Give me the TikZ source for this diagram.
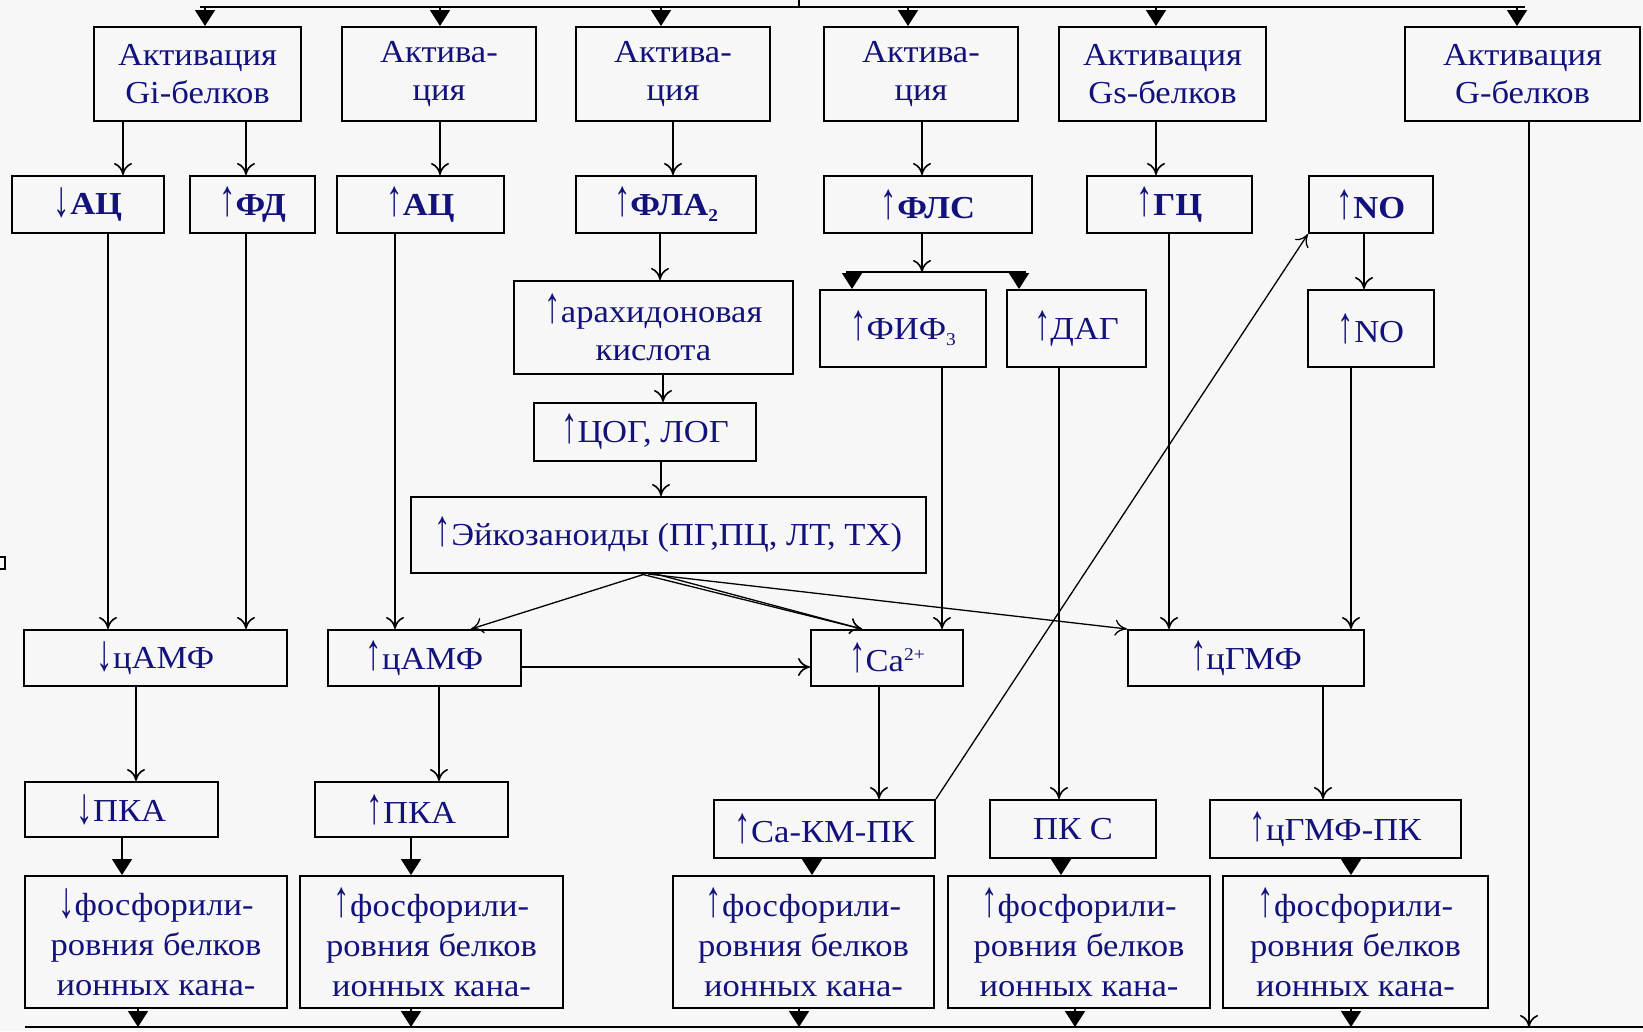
\documentclass[tikz,border=0pt]{standalone}
\usepackage{fontspec}
\setmainfont{Liberation Serif}[FakeStretch=1.08]
\usetikzlibrary{arrows.meta}
\definecolor{navy}{HTML}{12127A}
\definecolor{bgc}{HTML}{F7F7F7}
\newcommand\fsn{\fontsize{32}{38}\selectfont}
\newcommand\fsb{\fontsize{32}{38}\selectfont\bfseries}
\newcommand\fsf{\fontsize{32}{40}\selectfont}
\newcommand\lowsub[1]{\raisebox{-6pt}{\fontsize{18}{18}\selectfont #1}}
\newcommand\highsup[1]{\raisebox{11pt}{\fontsize{18}{18}\selectfont #1}}
\newcommand\upar{\scalebox{0.95}[1.6]{↑}}
\newcommand\dnar{\raisebox{-2pt}{\scalebox{0.95}[1.6]{↓}}}
\begin{document}
\begin{tikzpicture}[x=1pt,y=-1pt,
  box/.style={draw, line width=2pt, inner sep=0pt, align=center, font=\fsn, text=navy},
  bbox/.style={box, font=\fsb},
  fbox/.style={box, font=\fsf},
  ln/.style={line width=1.6pt},
  oa/.style={ln, -{Computer Modern Rightarrow[length=12pt,width=18pt]}},
  ta/.style={ln, -{Triangle[length=16pt,width=20pt]}},
  sa/.style={line width=1.3pt, -{Computer Modern Rightarrow[length=12pt,width=16pt]}}
]
\fill[bgc] (0,0) rectangle (1643,1031);
\useasboundingbox (0,0) rectangle (1643,1031);

% row 1
\node[box, minimum width=207pt, minimum height=94pt] (gi) at (197.5,74) {Активация\\Gi-белков};
\node[box, minimum width=194pt, minimum height=94pt] (a2) at (439,74) {Актива-\\ция};
\node[box, minimum width=194pt, minimum height=94pt] (a3) at (673,74) {Актива-\\ция};
\node[box, minimum width=194pt, minimum height=94pt] (a4) at (921,74) {Актива-\\ция};
\node[box, minimum width=207pt, minimum height=94pt] (gs) at (1162.5,74) {Активация\\Gs-белков};
\node[box, minimum width=235pt, minimum height=94pt] (g) at (1522.5,74) {Активация\\G-белков};

% row 2
\node[bbox, minimum width=152pt, minimum height=57pt] (dac) at (88,204.5) {\dnar АЦ};
\node[bbox, minimum width=125pt, minimum height=57pt] (ufd) at (252.5,204.5) {\upar ФД};
\node[bbox, minimum width=167pt, minimum height=57pt] (uac) at (420.5,204.5) {\upar АЦ};
\node[bbox, minimum width=180pt, minimum height=57pt] (fla) at (666,204.5) {\upar ФЛА\lowsub{2}};
\node[bbox, minimum width=208pt, minimum height=57pt] (fls) at (928,204.5) {\upar ФЛС};
\node[bbox, minimum width=165pt, minimum height=57pt] (gc) at (1169.5,204.5) {\upar ГЦ};
\node[bbox, minimum width=124pt, minimum height=57pt] (no1) at (1371,204.5) {\upar NO};

% row 3
\node[box, minimum width=279pt, minimum height=93pt] (arach) at (653.5,327.5) {\upar арахидоновая\\кислота};
\node[box, minimum width=166pt, minimum height=77pt] (fif) at (903,328.5) {\upar ФИФ\lowsub{3}};
\node[box, minimum width=139pt, minimum height=77pt] (dag) at (1076.5,328.5) {\upar ДАГ};
\node[box, minimum width=126pt, minimum height=77pt] (no2) at (1371,328.5) {\upar NO};

% rows 4-5
\node[box, minimum width=222pt, minimum height=58pt] (cog) at (645,432) {\upar ЦОГ, ЛОГ};
\node[box, minimum width=515pt, minimum height=76pt] (eic) at (668.5,535) {\upar Эйкозаноиды (ПГ,ПЦ, ЛТ, ТХ)};

% row 6
\node[box, minimum width=263pt, minimum height=56pt] (dcamp) at (155.5,658) {\dnar цАМФ};
\node[box, minimum width=193pt, minimum height=56pt] (ucamp) at (424.5,658) {\upar цАМФ};
\node[box, minimum width=152pt, minimum height=56pt] (ca) at (887,658) {\upar Ca\highsup{2+}};
\node[box, minimum width=236pt, minimum height=56pt] (cgmp) at (1246,658) {\upar цГМФ};

% row 7
\node[box, minimum width=193pt, minimum height=55pt] (dpka) at (121.5,809.5) {\dnar ПКА};
\node[box, minimum width=193pt, minimum height=55pt] (upka) at (411.5,809.5) {\upar ПКА};
\node[box, minimum width=221pt, minimum height=58pt] (camk) at (824.5,829) {\upar Ca-КМ-ПК};
\node[box, minimum width=166pt, minimum height=58pt] (pkc) at (1073,829) {ПК С};
\node[box, minimum width=251pt, minimum height=58pt] (cgpk) at (1335.5,829) {\upar цГМФ-ПК};

% row 8
\node[fbox, minimum width=262pt, minimum height=132pt] (f1) at (156,942) {\dnar фосфорили-\\ровния белков\\ионных кана-};
\node[fbox, minimum width=263pt, minimum height=132pt] (f2) at (431.5,942) {\upar фосфорили-\\ровния белков\\ионных кана-};
\node[fbox, minimum width=261pt, minimum height=132pt] (f3) at (803.5,942) {\upar фосфорили-\\ровния белков\\ионных кана-};
\node[fbox, minimum width=262pt, minimum height=132pt] (f4) at (1079,942) {\upar фосфорили-\\ровния белков\\ионных кана-};
\node[fbox, minimum width=265pt, minimum height=132pt] (f5) at (1355.5,942) {\upar фосфорили-\\ровния белков\\ионных кана-};

% buses
\coordinate (busL) at (200,7);
\coordinate (busR) at (1525,7);
\coordinate (tick) at (799,0);
\coordinate (bbL) at (25,1027);
\coordinate (bbR) at (1643,1027);
\coordinate (fbL) at (846,272);
\coordinate (fbR) at (1026,272);
\draw[ln] (busL) -- (busR);
\draw[ln] (tick) -- (tick |- busL);
\draw[ln] (bbL) -- (bbR);
\draw[ln] (fbL) -- (fbR);

% top bus to row 1
\draw[ta] (busL -| 205,0) -- (gi.north -| 205,0);
\draw[ta] (busL -| 440,0) -- (a2.north -| 440,0);
\draw[ta] (busL -| 661,0) -- (a3.north -| 661,0);
\draw[ta] (busL -| 908,0) -- (a4.north -| 908,0);
\draw[ta] (busL -| 1156,0) -- (gs.north -| 1156,0);
\draw[ta] (busL -| 1517,0) -- (g.north -| 1517,0);

% row 1 to row 2
\draw[oa] (gi.south -| 123,0) -- (dac.north -| 123,0);
\draw[oa] (gi.south -| 246,0) -- (ufd.north -| 246,0);
\draw[oa] (a2.south -| 440,0) -- (uac.north -| 440,0);
\draw[oa] (a3.south -| 673,0) -- (fla.north -| 673,0);
\draw[oa] (a4.south -| 922,0) -- (fls.north -| 922,0);
\draw[oa] (gs.south -| 1156,0) -- (gc.north -| 1156,0);
\draw[oa] (g.south -| 1529,0) -- (bbL -| 1529,0);

% row 2 downwards
\draw[oa] (dac.south -| 108,0) -- (dcamp.north -| 108,0);
\draw[oa] (ufd.south -| 246,0) -- (dcamp.north -| 246,0);
\draw[oa] (uac.south -| 395,0) -- (ucamp.north -| 395,0);
\draw[oa] (gc.south -| 1169,0) -- (cgmp.north -| 1169,0);
\draw[oa] (fla.south -| 660,0) -- (arach.north -| 660,0);
\draw[oa] (fls.south -| 922,0) -- (fbL -| 922,0);
\draw[ta] (fbL -| 852,0) -- (fif.north -| 852,0);
\draw[ta] (fbL -| 1019,0) -- (dag.north -| 1019,0);
\draw[oa] (no1.south -| 1364,0) -- (no2.north -| 1364,0);

% row 3 downwards
\draw[oa] (arach.south -| 663,0) -- (cog.north -| 663,0);
\draw[oa] (cog.south -| 661,0) -- (eic.north -| 661,0);
\draw[oa] (fif.south -| 942,0) -- (ca.north -| 942,0);
\draw[oa] (dag.south -| 1059,0) -- (pkc.north -| 1059,0);
\draw[oa] (no2.south -| 1351,0) -- (cgmp.north -| 1351,0);

% eicosanoid arrows
\draw[sa] (eic.south -| 645,0) -- (ucamp.north -| 471,0);
\draw[sa] (eic.south -| 641,0) -- (ca.north -| 862,0);
\draw[sa] (eic.south -| 656,0) -- (ca.north -| 862,0);
\draw[sa] (eic.south -| 648,0) -- (cgmp.north west);
\draw[oa] (ucamp.east |- 0,667) -- (ca.west |- 0,667);

% row 6 to row 7
\draw[oa] (dcamp.south -| 136,0) -- (dpka.north -| 136,0);
\draw[oa] (ucamp.south -| 439,0) -- (upka.north -| 439,0);
\draw[oa] (ca.south -| 879,0) -- (camk.north -| 879,0);
\draw[oa] (cgmp.south -| 1323,0) -- (cgpk.north -| 1323,0);
\draw[sa] (camk.north east) -- (no1.south west);

% row 7 to row 8
\draw[ta] (dpka.south -| 122,0) -- (f1.north -| 122,0);
\draw[ta] (upka.south -| 411,0) -- (f2.north -| 411,0);
\draw[ta] (camk.south -| 812,0) -- (f3.north -| 812,0);
\draw[ta] (pkc.south -| 1061,0) -- (f4.north -| 1061,0);
\draw[ta] (cgpk.south -| 1351,0) -- (f5.north -| 1351,0);

% row 8 to bottom bus
\draw[ta] (f1.south -| 138,0) -- (bbL -| 138,0);
\draw[ta] (f2.south -| 411,0) -- (bbL -| 411,0);
\draw[ta] (f3.south -| 799,0) -- (bbL -| 799,0);
\draw[ta] (f4.south -| 1075,0) -- (bbL -| 1075,0);
\draw[ta] (f5.south -| 1351,0) -- (bbL -| 1351,0);

% small mark at the left edge
\draw[line width=1.2pt] (-3,557) rectangle (5,569);
\end{tikzpicture}
\end{document}
